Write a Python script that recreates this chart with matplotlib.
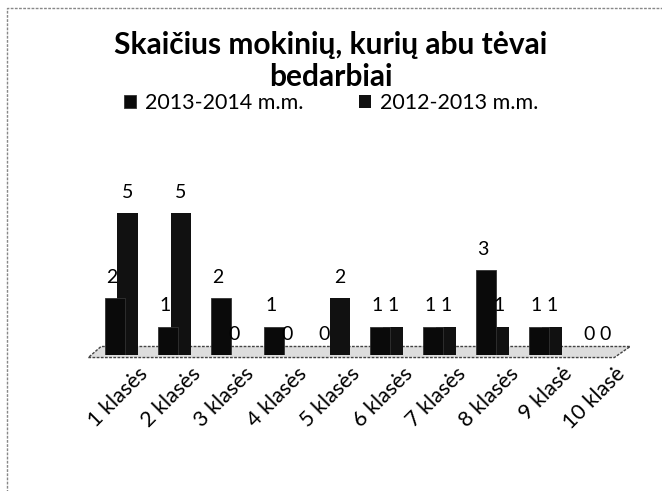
import numpy as np
import matplotlib.pyplot as plt
import matplotlib.transforms as mtransforms
from matplotlib.patches import Rectangle, Polygon

plt.rcParams['font.family'] = ['Lato', 'DejaVu Sans']

classes = ["1 klasės", "2 klasės", "3 klasės", "4 klasės", "5 klasės",
           "6 klasės", "7 klasės", "8 klasės", "9 klasė", "10 klasė"]
y_2013_2014 = [2, 1, 2, 1, 0, 1, 1, 3, 1, 0]
y_2012_2013 = [5, 5, 0, 0, 2, 1, 1, 1, 1, 0]
series_names = ["2013-2014 m.m.", "2012-2013 m.m."]

x = np.arange(len(classes))
w = 0.38
off = 0.12

fig = plt.figure(figsize=(6.62, 4.91), dpi=100)
ax = fig.add_axes([0.131, 0.277, 0.825, 0.346])

# dashed chart border
fig.patches.append(Rectangle((0.0106, -0.05), 1.2, 1.033, transform=fig.transFigure,
                             fill=False, ec="#888888", lw=1.0, ls=(0, (2, 1))))

# 3D-ish floor
floor = Polygon([(-0.62, -0.015), (9.3, -0.015), (9.6, 0.05), (-0.38, 0.05)],
                closed=True, transform=ax.get_xaxis_transform(),
                fc="#dddddd", ec="#444444", lw=1.0, ls=(0, (2, 1)), clip_on=False, zorder=1)
ax.add_patch(floor)

b2 = ax.bar(x + off, y_2012_2013, w, color="#111111", zorder=2, label=series_names[1])
b1 = ax.bar(x - off, y_2013_2014, w, color="#0a0a0a", ec="#333333", lw=0.6,
            zorder=3, label=series_names[0])

for xi, v in zip(x, y_2013_2014):
    ax.annotate(str(v), (xi - off, v), xytext=(-2, 15), textcoords="offset points",
                ha="center", va="center", fontsize=14, zorder=5)
for xi, v in zip(x, y_2012_2013):
    ax.annotate(str(v), (xi + off, v), xytext=(0, 15), textcoords="offset points",
                ha="center", va="center", fontsize=14, zorder=5)

ax.set_xlim(-0.65, 9.65)
ax.set_ylim(0, 6)
ax.set_yticks([])
ax.set_xticks(x)
ax.set_xticklabels(classes, rotation=45, ha="right", rotation_mode="anchor", fontsize=15.5)
ax.tick_params(axis="x", length=0, pad=6)
shift = mtransforms.ScaledTranslation(12 / 72, 0, fig.dpi_scale_trans)
for lbl in ax.get_xticklabels():
    lbl.set_transform(lbl.get_transform() + shift)
for s in ax.spines.values():
    s.set_visible(False)
ax.patch.set_alpha(0)

fig.text(0.5, 0.876, "Skaičius mokinių, kurių abu tėvai\nbedarbiai", ha="center", va="center",
         fontsize=21.5, fontweight="bold", linespacing=1.2)

fig.legend(handles=[b1, b2], labels=series_names, loc="center", bbox_to_anchor=(0.5, 0.79),
           ncol=2, frameon=False, fontsize=15.5, handlelength=0.55, handleheight=0.55,
           handletextpad=0.4, columnspacing=2.6)

fig.savefig("out.png", dpi=100, facecolor="white")
